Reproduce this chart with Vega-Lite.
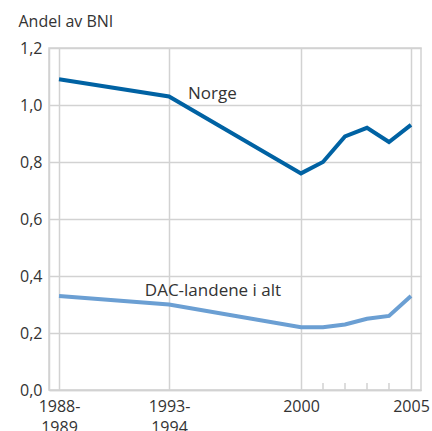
{
  "$schema": "https://vega.github.io/schema/vega-lite/v6.json",
  "width": 372,
  "height": 342,
  "autosize": "none",
  "padding": {"left": 49, "top": 48, "right": 11, "bottom": 41},
  "background": "white",
  "config": {
    "font": "Open Sans",
    "view": {"stroke": "#d2d2d2", "strokeWidth": 1.5}
  },
  "data": {
    "values": [
      {"year": 1989, "series": "Norge", "value": 1.09},
      {"year": 1994, "series": "Norge", "value": 1.03},
      {"year": 2000, "series": "Norge", "value": 0.76},
      {"year": 2001, "series": "Norge", "value": 0.80},
      {"year": 2002, "series": "Norge", "value": 0.89},
      {"year": 2003, "series": "Norge", "value": 0.92},
      {"year": 2004, "series": "Norge", "value": 0.87},
      {"year": 2005, "series": "Norge", "value": 0.93},
      {"year": 1989, "series": "DAC-landene i alt", "value": 0.33},
      {"year": 1994, "series": "DAC-landene i alt", "value": 0.30},
      {"year": 2000, "series": "DAC-landene i alt", "value": 0.22},
      {"year": 2001, "series": "DAC-landene i alt", "value": 0.22},
      {"year": 2002, "series": "DAC-landene i alt", "value": 0.23},
      {"year": 2003, "series": "DAC-landene i alt", "value": 0.25},
      {"year": 2004, "series": "DAC-landene i alt", "value": 0.26},
      {"year": 2005, "series": "DAC-landene i alt", "value": 0.33}
    ]
  },
  "encoding": {
    "x": {
      "field": "year",
      "type": "quantitative",
      "scale": {"domain": [1988.545, 2005.455], "nice": false, "zero": false},
      "axis": {
        "values": [1989, 1994, 2000, 2005],
        "format": "d",
        "labelExpr": "datum.value == 1989 ? ['1988-', '1989'] : datum.value == 1994 ? ['1993-', '1994'] : datum.label",
        "title": null,
        "grid": true,
        "gridColor": "#d2d2d2",
        "gridWidth": 1.5,
        "ticks": false,
        "domainColor": "#d2d2d2",
        "domainWidth": 1.5,
        "labelFontSize": 16,
        "labelColor": "#333333",
        "labelPadding": 8,
        "labelLineHeight": 21,
        "labelFlush": false,
        "labelOverlap": false
      }
    },
    "y": {
      "field": "value",
      "type": "quantitative",
      "scale": {"domain": [0, 1.2], "nice": false},
      "axis": {
        "values": [0, 0.2, 0.4, 0.6, 0.8, 1.0, 1.2],
        "format": ".1f",
        "labelExpr": "replace(datum.label, '.', ',')",
        "title": "Andel av BNI",
        "titleAngle": 0,
        "titleAlign": "left",
        "titleBaseline": "alphabetic",
        "titleX": -31,
        "titleY": -22,
        "titleFontSize": 16,
        "titleFontWeight": "normal",
        "titleColor": "#333333",
        "grid": true,
        "gridColor": "#d2d2d2",
        "gridWidth": 1.5,
        "ticks": false,
        "domainColor": "#d2d2d2",
        "domainWidth": 1.5,
        "labelFontSize": 16,
        "labelColor": "#333333",
        "labelPadding": 7,
        "labelFlush": false
      }
    }
  },
  "layer": [
    {
      "transform": [{"filter": "datum.series == 'Norge' && datum.year > 2000 && datum.year < 2005"}],
      "mark": {"type": "rule", "color": "#d2d2d2", "strokeWidth": 1.5},
      "encoding": {
        "y": {"datum": 0},
        "y2": {"datum": 0.025}
      }
    },
    {
      "mark": {"type": "line", "strokeWidth": 4, "strokeJoin": "miter"},
      "encoding": {
        "color": {
          "field": "series",
          "type": "nominal",
          "scale": {"domain": ["Norge", "DAC-landene i alt"], "range": ["#0062a3", "#6b9fd3"]},
          "legend": null
        }
      }
    },
    {
      "transform": [{"filter": "datum.series == 'Norge' && datum.year == 1989"}],
      "mark": {"type": "text", "text": "Norge", "align": "left", "baseline": "alphabetic", "fontSize": 17, "fontWeight": "normal", "color": "#333333"},
      "encoding": {
        "x": {"datum": 1994.86},
        "y": {"datum": 1.021}
      }
    },
    {
      "transform": [{"filter": "datum.series == 'DAC-landene i alt' && datum.year == 1989"}],
      "mark": {"type": "text", "text": "DAC-landene i alt", "align": "left", "baseline": "alphabetic", "fontSize": 17, "fontWeight": "normal", "color": "#333333"},
      "encoding": {
        "x": {"datum": 1992.9},
        "y": {"datum": 0.33}
      }
    }
  ]
}
